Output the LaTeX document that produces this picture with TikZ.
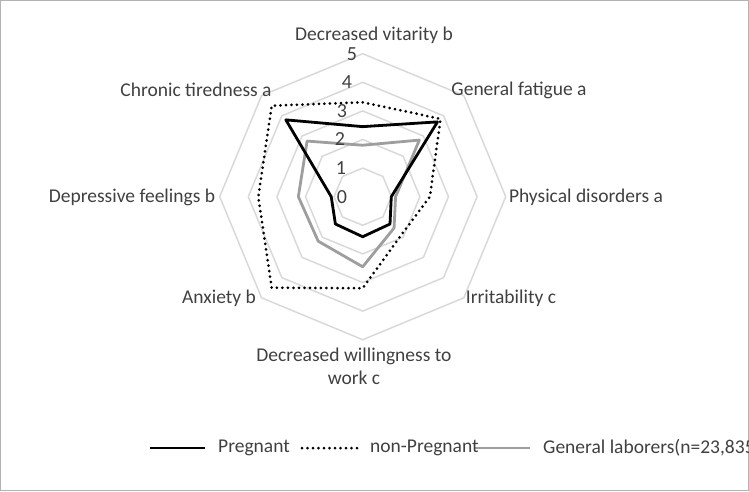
\documentclass[tikz,border=0pt]{standalone}
\usepackage{fontspec}
\setmainfont{Carlito}
\usetikzlibrary{calc}
\begin{document}
\begin{tikzpicture}[x=1pt,y=-1pt,
  grid/.style={draw=black!15,line width=1.5pt},
  lab/.style={font=\fontsize{19.5}{23}\selectfont,text=black!75,inner sep=1pt},
  preg/.style={draw=black,line width=2.8pt,line join=round},
  nonp/.style={draw=black,line width=3pt,dash pattern=on 0pt off 5.5pt,line cap=round},
  gen/.style={draw=black!38,line width=2.8pt,line join=round}]
\useasboundingbox (0,0) rectangle (749,491);
\draw[black!30,line width=0.8pt] (0.5,0.5) rectangle (748.5,490.5);
\def\cx{362.7}\def\cy{196.7}\def\u{28.6}
\coordinate (O) at (\cx,\cy);
\foreach \r in {1,...,5}{
  \draw[grid] ($(O)+(90:\r*\u)$) \foreach \a in {45,0,-45,-90,-135,180,135}{ -- ($(O)+(\a:\r*\u)$)} -- cycle;
}
\newcommand\radar[9]{%
  \draw[#1] (\cx,\cy-#2*\u) -- (\cx+0.7071*#3*\u,\cy-0.7071*#3*\u) -- (\cx+#4*\u,\cy)
  -- (\cx+0.7071*#5*\u,\cy+0.7071*#5*\u) -- (\cx,\cy+#6*\u)
  -- (\cx-0.7071*#7*\u,\cy+0.7071*#7*\u) -- (\cx-#8*\u,\cy)
  -- (\cx-0.7071*#9*\u,\cy-0.7071*#9*\u) -- cycle;}
\radar{gen}{1.8}{2.8}{1.15}{1.55}{2.45}{2.2}{2.25}{2.75}
\radar{nonp}{3.3}{3.85}{2.35}{1.9}{3.2}{4.5}{3.65}{4.5}
\radar{preg}{2.45}{3.7}{1.0}{1.35}{1.4}{1.35}{1.1}{3.8}
\foreach \v/\xx in {0/342,1/341,2/340,3/342,4/347,5/352}
  \node[lab,font=\fontsize{20}{22}\selectfont] (n\v) at (\xx,\cy-\v*\u) {\v};
\node[lab] (l1) at (374,35) {Decreased vitarity b};
\node[lab] (l2) at (519,90) {General fatigue a};
\node[lab] (l3) at (586,197) {Physical disorders a};
\node[lab] (l4) at (511,298) {Irritability c};
\node[lab,align=center] (l5) at (354,366) {Decreased willingness to\\work c};
\node[lab] (l6) at (219,298) {Anxiety b};
\node[lab] (l7) at (132,197) {Depressive feelings b};
\node[lab] (l8) at (196,90) {Chronic tiredness a};
\coordinate (a1) at (150,448); \coordinate (a2) at (205,448);
\coordinate (b1) at (302,448); \coordinate (b2) at (357,448);
\coordinate (c1) at (475,448); \coordinate (c2) at (530,448);
\draw[preg] (a1) -- (a2);
\draw[nonp] (b1) -- (b2);
\draw[gen] (c1) -- (c2);
\node[lab,anchor=west] (t1) at (217,448) {Pregnant};
\node[lab,anchor=west] (t2) at (369,448) {non-Pregnant};
\node[lab,anchor=west] (t3) at (542,448) {General laborers(n=23,835)};
\end{tikzpicture}
\end{document}
